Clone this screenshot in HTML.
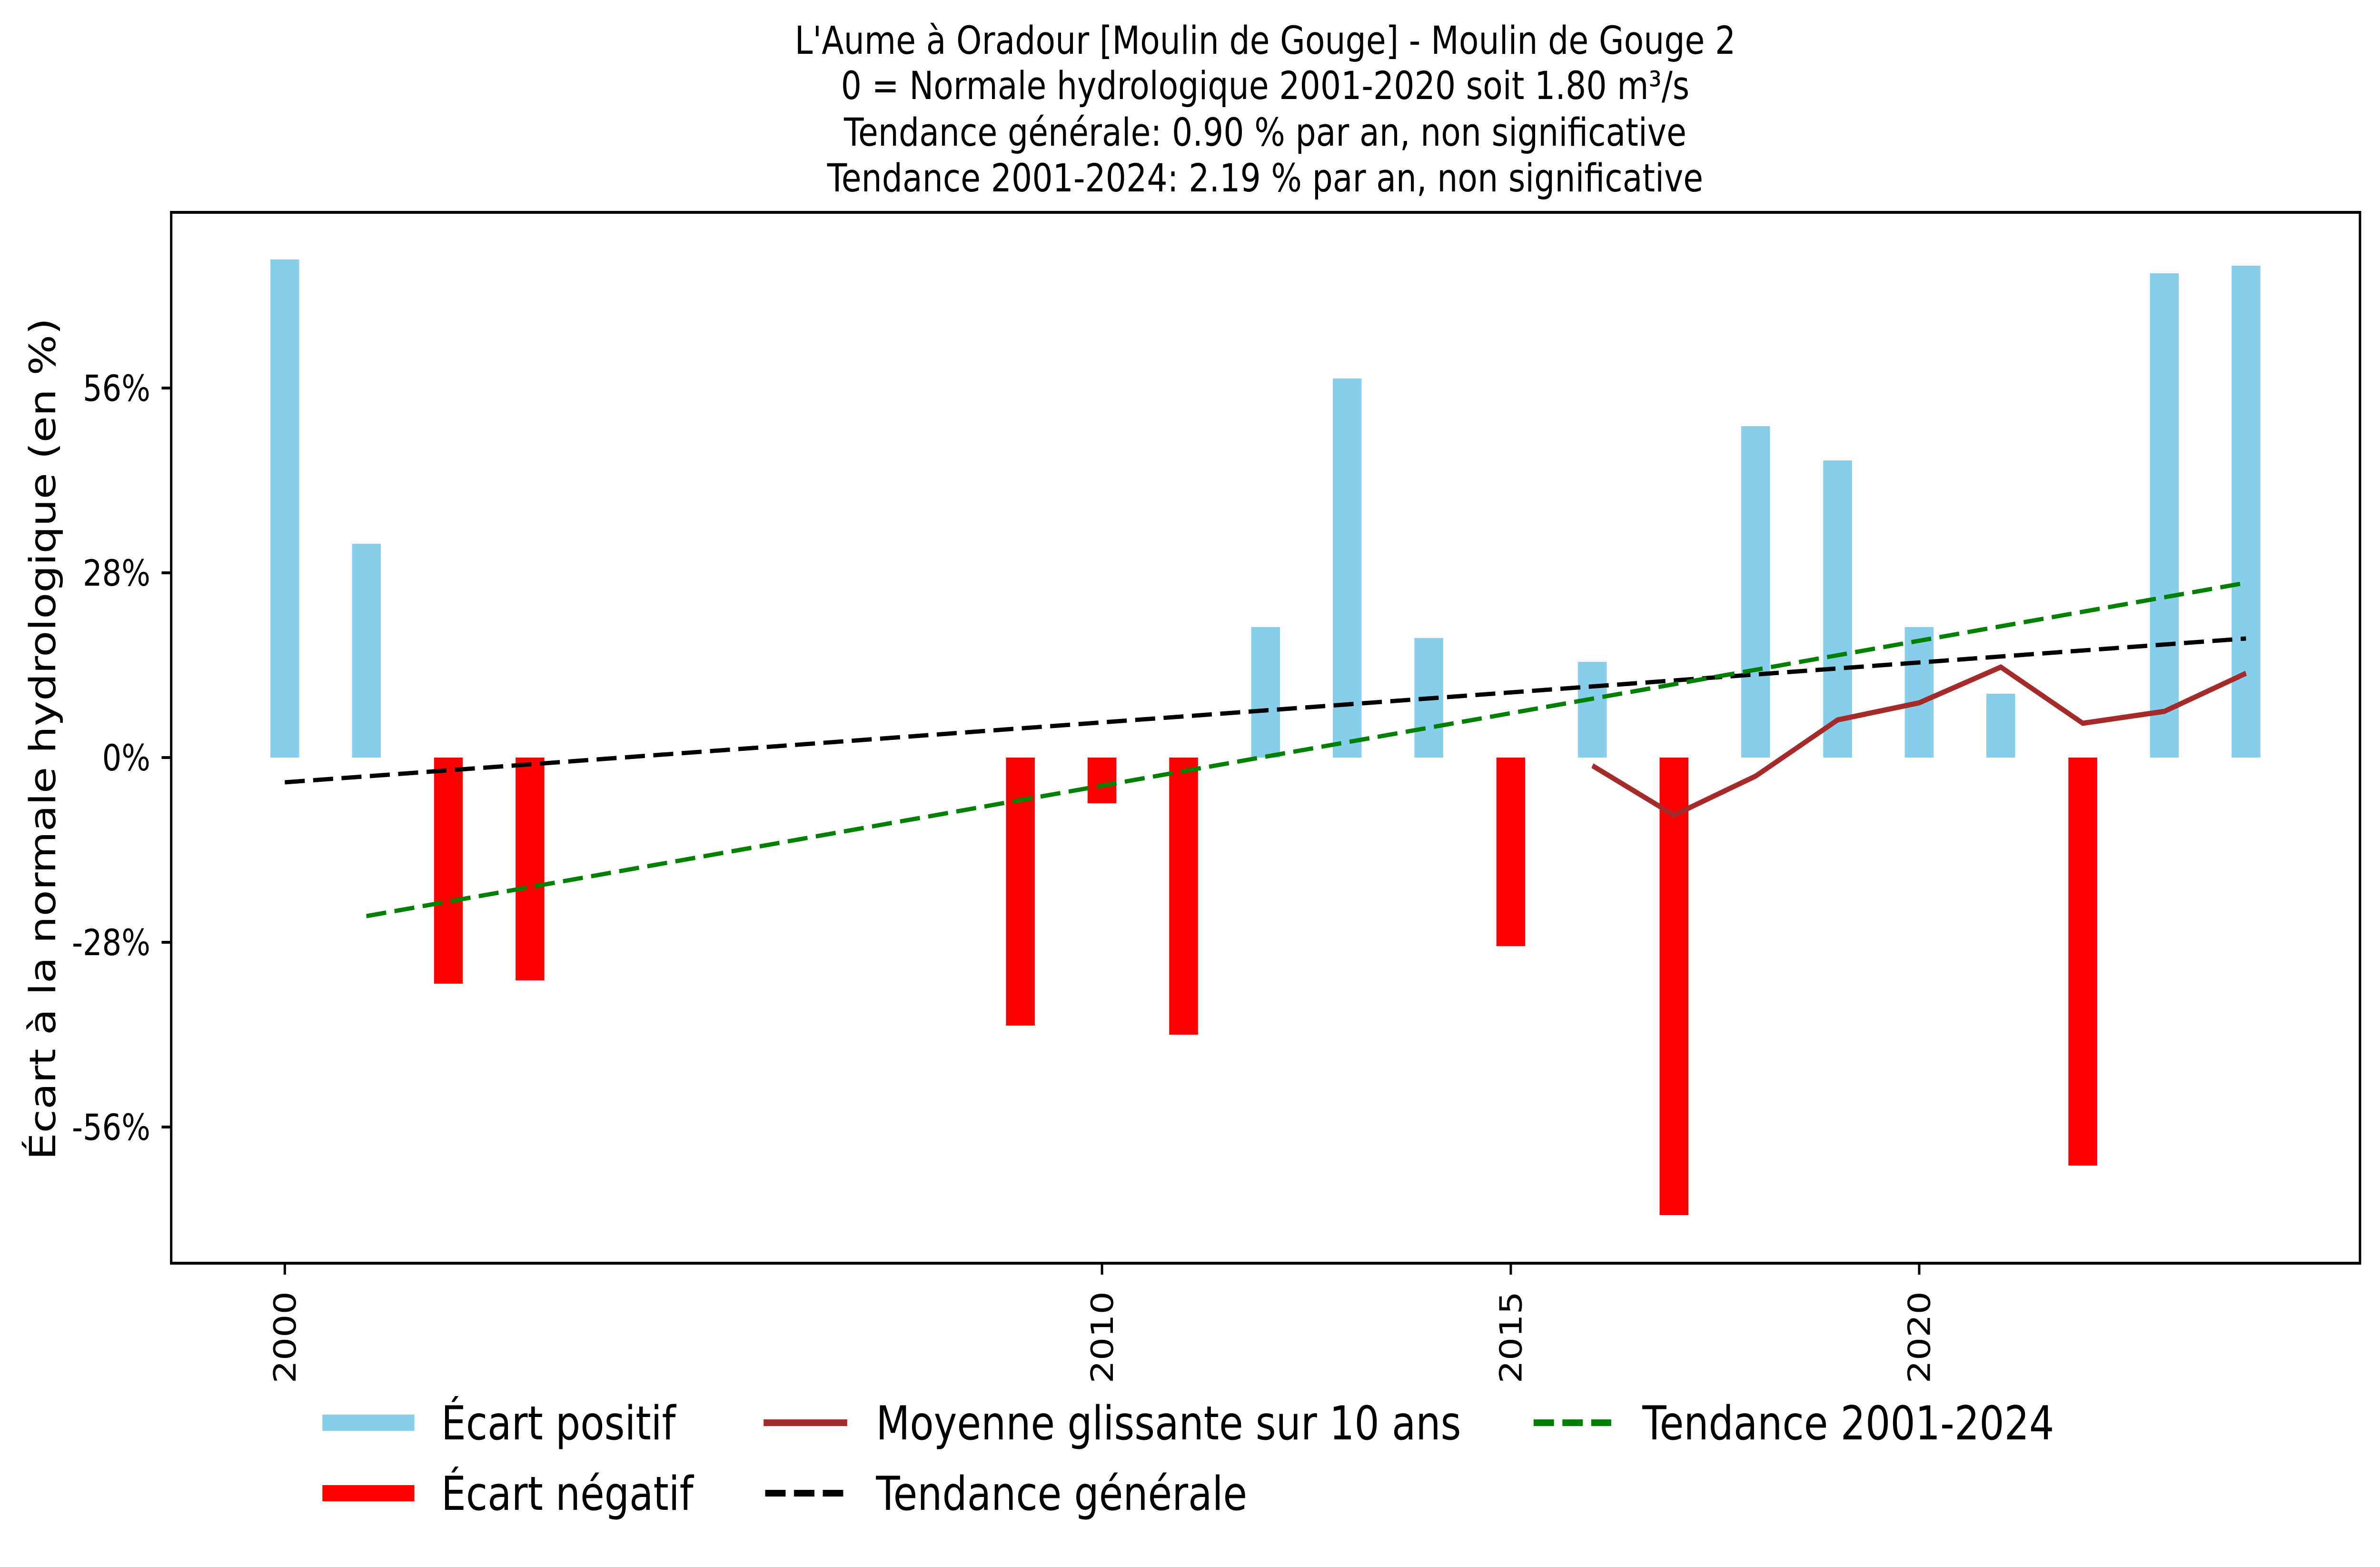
<!DOCTYPE html>
<html><head><meta charset="utf-8"><style>html,body{margin:0;padding:0;background:#fff;width:100%;height:100%;overflow:hidden}svg{display:block;width:100vw;height:100vh}</style></head>
<body>
<svg viewBox="0 0 5950 3291" preserveAspectRatio="none" xmlns="http://www.w3.org/2000/svg" font-family="'DejaVu Sans','Liberation Sans',sans-serif">
<rect width="5950" height="3291" fill="#fff"/>
<g font-size="81" text-anchor="middle" fill="#000">
<text x="3163" y="113">L'Aume à Oradour [Moulin de Gouge] - Moulin de Gouge 2</text>
<text x="3163" y="208">0 = Normale hydrologique 2001-2020 soit 1.80 m³/s</text>
<text x="3163" y="306">Tendance générale: 0.90 % par an, non significative</text>
<text x="3163" y="402">Tendance 2001-2024: 2.19 % par an, non significative</text>
</g>
<g fill="#87CEEB">
<rect x="676" y="545" width="72" height="1046"/>
<rect x="880" y="1142" width="72" height="449"/>
<rect x="3128" y="1317" width="72" height="274"/>
<rect x="3332" y="795" width="72" height="796"/>
<rect x="3536" y="1340" width="72" height="251"/>
<rect x="3945" y="1390" width="72" height="201"/>
<rect x="4353" y="895" width="72" height="696"/>
<rect x="4558" y="967" width="72" height="624"/>
<rect x="4762" y="1317" width="72" height="274"/>
<rect x="4966" y="1457" width="72" height="134"/>
<rect x="5375" y="574" width="72" height="1017"/>
<rect x="5579" y="558" width="72" height="1033"/>
</g>
<g fill="#FF0000">
<rect x="1085" y="1591" width="72" height="475"/>
<rect x="1289" y="1591" width="72" height="468"/>
<rect x="2515" y="1591" width="72" height="563"/>
<rect x="2719" y="1591" width="72" height="96"/>
<rect x="2923" y="1591" width="72" height="582"/>
<rect x="3741" y="1591" width="72" height="396"/>
<rect x="4149" y="1591" width="72" height="961"/>
<rect x="5171" y="1591" width="72" height="857"/>
</g>
<polyline points="3981,1608 4185,1712 4389,1630 4594,1512 4798,1476 5002,1401 5207,1519 5411,1494 5615,1414" fill="none" stroke="#A52A2A" stroke-width="11"/>
<line x1="712" y1="1643" x2="5615" y2="1341" stroke="#000" stroke-width="9" stroke-dasharray="50 21"/>
<line x1="916" y1="1924" x2="5615" y2="1224" stroke="#008000" stroke-width="9" stroke-dasharray="50 21"/>
<rect x="428" y="446" width="5472" height="2207" fill="none" stroke="#000" stroke-width="6"/>
<g stroke="#000" stroke-width="6">
<line x1="404" y1="815" x2="428" y2="815"/>
<line x1="404" y1="1203" x2="428" y2="1203"/>
<line x1="404" y1="1591" x2="428" y2="1591"/>
<line x1="404" y1="1979" x2="428" y2="1979"/>
<line x1="404" y1="2367" x2="428" y2="2367"/>
<line x1="712" y1="2653" x2="712" y2="2677"/>
<line x1="2755" y1="2653" x2="2755" y2="2677"/>
<line x1="3777" y1="2653" x2="3777" y2="2677"/>
<line x1="4798" y1="2653" x2="4798" y2="2677"/>
</g>
<g font-size="76" text-anchor="end" fill="#000">
<text x="376" y="842">56%</text>
<text x="376" y="1230">28%</text>
<text x="376" y="1618">0%</text>
<text x="376" y="2006">-28%</text>
<text x="376" y="2394">-56%</text>
<text transform="translate(739,2712) rotate(-90)">2000</text>
<text transform="translate(2782,2712) rotate(-90)">2010</text>
<text transform="translate(3804,2712) rotate(-90)">2015</text>
<text transform="translate(4825,2712) rotate(-90)">2020</text>
</g>
<text transform="translate(138,1552) rotate(-90)" font-size="90" text-anchor="middle" fill="#000">Écart à la normale hydrologique (en %)</text>
<line x1="806" y1="2988" x2="1036" y2="2988" stroke="#87CEEB" stroke-width="34"/>
<line x1="806" y1="3136" x2="1036" y2="3136" stroke="#FF0000" stroke-width="34"/>
<line x1="1909" y1="2988" x2="2118" y2="2988" stroke="#A52A2A" stroke-width="14"/>
<line x1="1913" y1="3136" x2="2118" y2="3136" stroke="#000" stroke-width="14" stroke-dasharray="51 21"/>
<line x1="3834" y1="2988" x2="4028" y2="2988" stroke="#008000" stroke-width="14" stroke-dasharray="51 21"/>
<g font-size="98" fill="#000">
<text x="1103" y="3023">Écart positif</text>
<text x="1103" y="3171">Écart négatif</text>
<text x="2190" y="3023">Moyenne glissante sur 10 ans</text>
<text x="2190" y="3171">Tendance générale</text>
<text x="4106" y="3023">Tendance 2001-2024</text>
</g>
</svg>
</body></html>
